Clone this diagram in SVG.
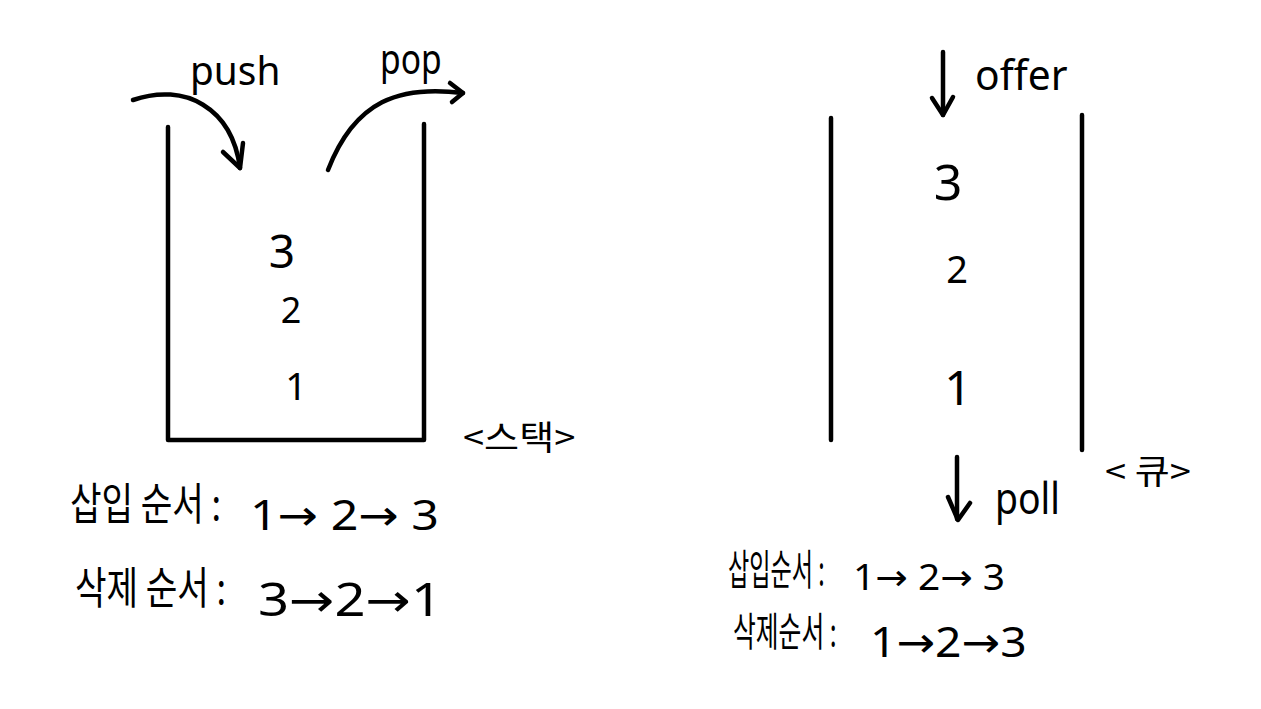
<svg xmlns="http://www.w3.org/2000/svg" width="1261" height="709" viewBox="0 0 1261 709">
<style>
.ln{fill:none;stroke:#000;stroke-width:4.5;stroke-linecap:round;stroke-linejoin:round}
.t{font-family:"Noto Sans CJK KR","Noto Sans",sans-serif;fill:#000}
.n{font-family:"Noto Sans","DejaVu Sans",sans-serif;fill:#000}
</style>
<rect width="1261" height="709" fill="#fff"/>
<g id="stack">
<path class="ln" d="M168,127 V440 H424 V124"/>
<text class="n" x="282" y="268" font-size="46" text-anchor="middle">3</text>
<text class="n" x="291" y="323" font-size="36" text-anchor="middle">2</text>
<text class="n" x="296" y="400" font-size="38" text-anchor="middle">1</text>
<text class="t" transform="translate(463,450) scale(1.12,1)" font-size="34">&lt;스택&gt;</text>
</g>
<g id="push">
<text class="n" transform="translate(190,85) scale(0.97,1)" font-size="40">push</text>
</g>
<g id="pop">
<text class="n" transform="translate(380,74) scale(0.8,1)" font-size="42">pop</text>
</g>
<g id="queue">
<line class="ln" x1="831" y1="118" x2="831" y2="440"/>
<line class="ln" x1="1082" y1="115" x2="1082" y2="450"/>
<text class="n" x="948" y="200" font-size="50" text-anchor="middle">3</text>
<text class="n" x="957" y="283" font-size="38" text-anchor="middle">2</text>
<text class="n" x="958" y="405" font-size="48" text-anchor="middle">1</text>
<text class="t" transform="translate(1105,484) scale(1.12,1)" font-size="34">&lt; 큐&gt;</text>
</g>
<g id="offer">
<text class="n" transform="translate(975,90) scale(0.97,1)" font-size="42">offer</text>
</g>
<g id="poll">
<text class="n" transform="translate(995,514) scale(0.85,1)" font-size="44">poll</text>
</g>
<g id="stack-order">
<text class="t" transform="translate(70,520) scale(0.78,1)" font-size="44">삽입 순서 :</text>
<text class="n" transform="translate(250,530) scale(1.15,1)" font-size="42">1→ 2→ 3</text>
<text class="t" transform="translate(75,604) scale(0.78,1)" font-size="44">삭제 순서 :</text>
<text class="n" transform="translate(258,616) scale(1.18,1)" font-size="46">3→2→1</text>
</g>
<g id="queue-order">
<text class="t" transform="translate(728,585) scale(0.55,1)" font-size="42">삽입순서 :</text>
<text class="n" transform="translate(853,590) scale(1.08,1)" font-size="36">1→ 2→ 3</text>
<text class="t" transform="translate(733,646) scale(0.62,1)" font-size="40">삭제순서 :</text>
<text class="n" transform="translate(870,657) scale(1.1,1)" font-size="42">1→2→3</text>
</g>
<g id="connectors">
<path class="ln" d="M133,100 C185,82 232,108 240,168"/>
<path class="ln" d="M223,152 L240,168 L243,143"/>
<path class="ln" d="M328,170 C355,100 400,85 463,93"/>
<path class="ln" d="M450,83 L463,93 L452,102"/>
<path class="ln" d="M943,52 V115"/>
<path class="ln" d="M932,98 L943,115 L953,97"/>
<path class="ln" d="M957,457 V519"/>
<path class="ln" d="M948,497 L958,520 L970,503"/>
</g>
</svg>
